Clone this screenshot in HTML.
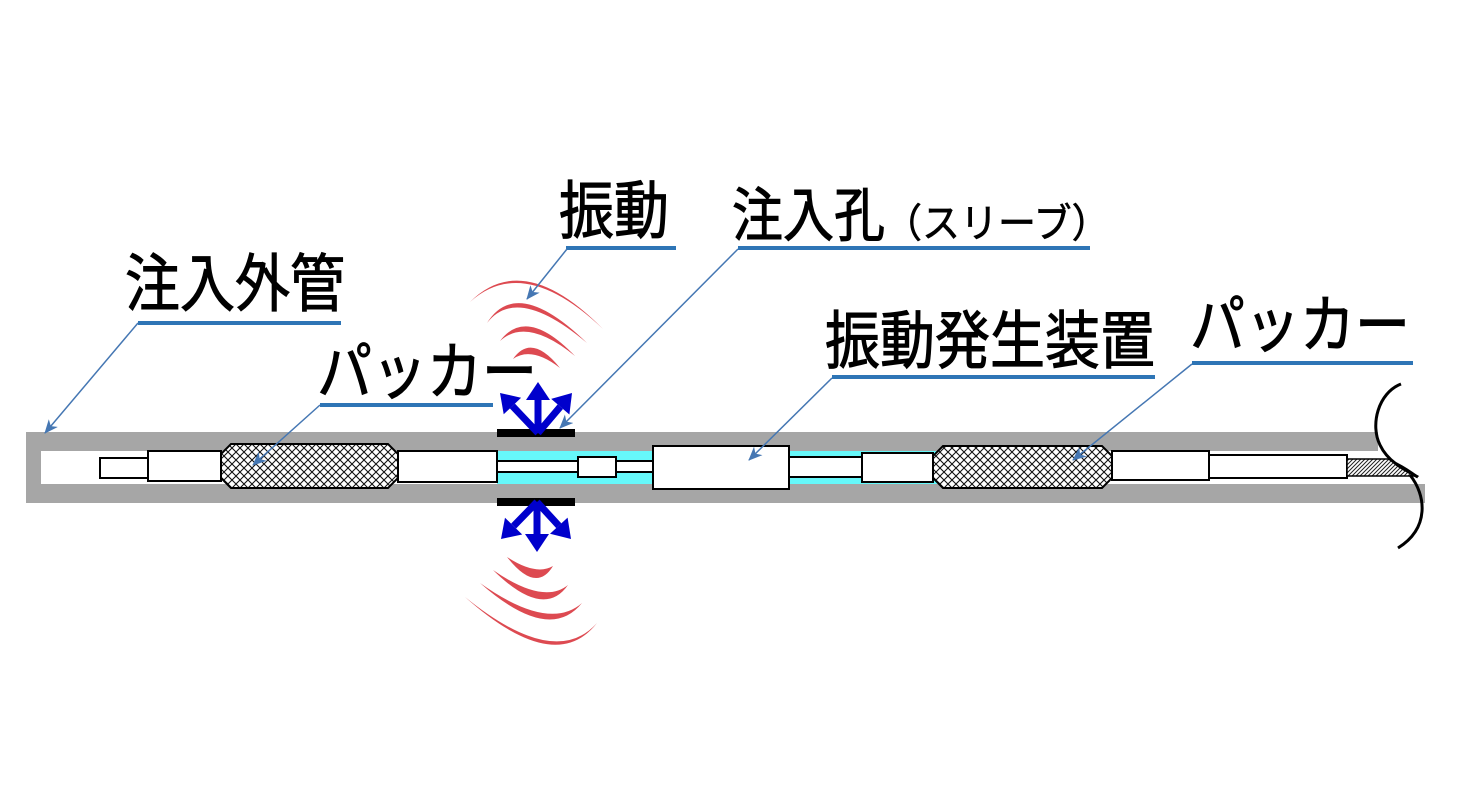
<!DOCTYPE html>
<html>
<head>
<meta charset="utf-8">
<style>
html,body{margin:0;padding:0;background:#fff;}
svg{display:block;}
text{font-family:"Liberation Sans","Noto Sans CJK JP",sans-serif;fill:#000;stroke:#000;stroke-width:0.9;}
</style>
</head>
<body>
<svg width="1460" height="792" viewBox="0 0 1460 792" xmlns="http://www.w3.org/2000/svg">
<defs>
  <pattern id="xh" width="8" height="8" patternUnits="userSpaceOnUse">
    <rect width="8" height="8" fill="#fff"/>
    <path d="M0,0 L8,8 M8,0 L0,8" stroke="#111" stroke-width="1.1"/>
  </pattern>
  <pattern id="hh" width="4" height="4" patternUnits="userSpaceOnUse">
    <rect width="4" height="4" fill="#fff"/>
    <path d="M-1,5 L5,-1 M-1,1 L1,-1 M3,5 L5,3" stroke="#222" stroke-width="1"/>
  </pattern>
  <marker id="ah" markerWidth="14" markerHeight="12" refX="13" refY="6" orient="auto" markerUnits="userSpaceOnUse">
    <path d="M0,0 L14,6 L0,12 L4,6 Z" fill="#4577b3"/>
  </marker>
</defs>

<!-- pipe -->
<rect x="26" y="432" width="1352" height="19" fill="#a6a6a6"/>
<rect x="26" y="484" width="1399" height="19" fill="#a6a6a6"/>
<rect x="26" y="432" width="15" height="71" fill="#a6a6a6"/>
<rect x="497" y="451" width="440" height="33" fill="#66f8fa"/>

<!-- components -->
<g stroke="#000" stroke-width="2" fill="#fff">
  <rect x="100" y="458" width="48" height="20"/>
  <rect x="148" y="451" width="73" height="30"/>
  <polygon points="231,444 388,444 398,454 398,478 388,488 231,488 221,478 221,454" fill="url(#xh)"/>
  <rect x="398" y="451" width="99" height="31"/>
  <rect x="497" y="461" width="81" height="11"/>
  <rect x="578" y="457" width="38" height="20"/>
  <rect x="616" y="461" width="37" height="11"/>
  <rect x="653" y="446" width="136" height="43"/>
  <rect x="789" y="457" width="73" height="20"/>
  <rect x="862" y="453" width="71" height="29"/>
  <polygon points="943,446 1102,446 1112,456 1112,478 1102,488 943,488 933,478 933,456" fill="url(#xh)"/>
  <rect x="1112" y="451" width="97" height="29"/>
  <rect x="1209" y="455" width="138" height="23"/>
  <path d="M1347,459 L1388,459 Q1404,466 1417,476 L1347,476 Z" fill="url(#hh)" stroke-width="1.5"/>
</g>

<!-- bracket -->
<path d="M1401,384 C1378,393 1370,425 1380,445 C1388,462 1405,470 1418,477" fill="none" stroke="#000" stroke-width="3"/>
<path d="M1410,475 C1426,495 1430,528 1398,548" fill="none" stroke="#000" stroke-width="3"/>

<!-- black bars -->
<rect x="497" y="429" width="78" height="8" fill="#000"/>
<rect x="497" y="498" width="78" height="8" fill="#000"/>

<!-- red arcs -->
<g fill="#dd4a51">
  <path d="M470,302 Q523.5,248.5 603,329 Q523.5,253.5 470,302 Z"/>
  <path d="M487,323 Q517,275 587,343 Q517,284 487,323 Z"/>
  <path d="M500,341 Q526.5,305.5 575,356 Q526.5,316.5 500,341 Z"/>
  <path d="M513,359 Q531.5,332.5 560,368 Q531.5,346 513,359 Z"/>
  <!-- bottom -->
  <path d="M507,557 Q536,594 553,566 Q536,576 507,557 Z"/>
  <path d="M493,570 Q543.5,620 568,585 Q543.5,605 493,570 Z"/>
  <path d="M480,583 Q549,644 582,603 Q549,632 480,583 Z"/>
  <path d="M465,597 Q555,677 597,623 Q555,670 465,597 Z"/>
</g>

<!-- blue arrows -->
<g fill="#0000cc" stroke="none">
  <line x1="538" y1="433" x2="538" y2="398" stroke="#0000cc" stroke-width="7"/>
  <polygon points="538,382 526,400 550,400"/>
  <line x1="538" y1="433" x2="512.4" y2="406" stroke="#0000cc" stroke-width="7"/>
  <polygon points="500,393 521.1,397.7 503.7,414.3"/>
  <line x1="538" y1="433" x2="560.3" y2="406.7" stroke="#0000cc" stroke-width="7"/>
  <polygon points="572,393 569.4,414.5 551.2,398.9"/>

  <line x1="537" y1="502" x2="537" y2="536" stroke="#0000cc" stroke-width="7"/>
  <polygon points="537,552 525,534 549,534"/>
  <line x1="537" y1="502" x2="513.6" y2="526.1" stroke="#0000cc" stroke-width="7"/>
  <polygon points="501,539 522.2,534.5 505,517.7"/>
  <line x1="537" y1="502" x2="558.8" y2="525.7" stroke="#0000cc" stroke-width="7"/>
  <polygon points="571,539 567.6,517.6 550,533.8"/>
</g>

<!-- underlines -->
<g fill="#2e75b6">
  <rect x="138" y="321" width="203" height="4"/>
  <rect x="320" y="403" width="173" height="4"/>
  <rect x="566" y="246" width="110" height="4"/>
  <rect x="738" y="246" width="352" height="4"/>
  <rect x="832" y="375" width="323" height="4"/>
  <rect x="1192" y="361" width="221" height="4"/>
</g>

<!-- leaders -->
<g stroke="#4577b3" stroke-width="1.5" fill="none" marker-end="url(#ah)">
  <line x1="138" y1="323" x2="45" y2="433"/>
  <line x1="320" y1="405" x2="253" y2="465"/>
  <line x1="567" y1="249" x2="527" y2="299"/>
  <line x1="738" y1="249" x2="560" y2="428"/>
  <line x1="832" y1="378" x2="749" y2="460"/>
  <line x1="1192" y1="364" x2="1073" y2="460"/>
</g>

<!-- labels -->
<text transform="translate(125,306) scale(1,1.15)" font-size="55">注入外管</text>
<text transform="translate(559,233) scale(1,1.15)" font-size="55">振動</text>
<text transform="translate(732,236) scale(1,1.15)" font-size="51">注入孔</text>
<text transform="translate(884,237) scale(1,1.05)" font-size="38" style="stroke-width:0.6">（スリーブ）</text>
<text transform="translate(825,363) scale(1,1.15)" font-size="55">振動発生装置</text>
<text transform="translate(317,394) scale(1,1.15)" font-size="55">パッカー</text>
<text transform="translate(1190,347) scale(1,1.15)" font-size="55">パッカー</text>
</svg>
</body>
</html>
